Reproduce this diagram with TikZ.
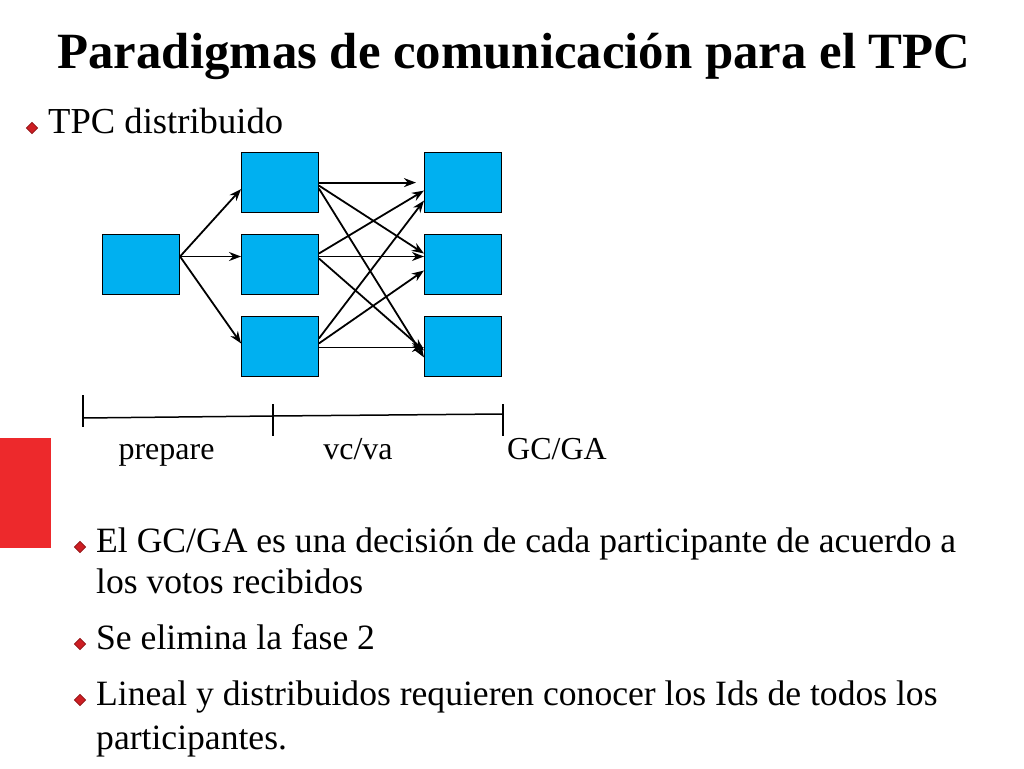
\documentclass[tikz,border=0pt]{standalone}
\usepackage{fontspec}
\setmainfont{Liberation Serif}
\usetikzlibrary{positioning}
\usetikzlibrary{arrows.meta}
\definecolor{boxblue}{RGB}{0,176,240}
\definecolor{barred}{RGB}{237,41,44}
\definecolor{bulred}{RGB}{205,30,35}
\tikzstyle{stage}=[rectangle,draw,line width=0.9pt,fill=boxblue,minimum width=77pt,minimum height=60pt,inner sep=0pt]
\tikzstyle{conn}=[-{Stealth[length=12pt,width=9pt]},line width=1.8pt]
\tikzstyle{tick}=[line width=1.5pt]
\tikzstyle{bul}=[rectangle,rotate=45,fill=bulred,draw=bulred!70!black,line width=0.6pt,minimum size=8pt,inner sep=0pt]
\tikzstyle{txt}=[anchor=base west,inner sep=0pt,font=\fontsize{35.6}{41}\selectfont]
\tikzstyle{phase}=[anchor=base,inner sep=0pt,font=\fontsize{32}{38}\selectfont]
\begin{document}
\begin{tikzpicture}[x=1pt,y=-1pt]
    \useasboundingbox (0,0) rectangle (1024,768);
    \fill[barred] (0,438) rectangle (50.7,548);
    \node (title) [anchor=base,inner sep=0pt,font=\fontsize{50.8}{60}\selectfont\bfseries] at (514,68) {Paradigmas de comunicación para el TPC};
    \node (b0) [bul] at (32,128) {};
    \node (h0) [txt, font=\fontsize{36.6}{42}\selectfont] at (48,133) {TPC distribuido};

\node (m2) [stage] at (280,264.5) {};
\node (m1) [above=21pt of m2, stage] {};
\node (m3) [below=21pt of m2, stage] {};
\node (l) [left=61pt of m2, stage] {};
\node (r2) [right=105pt of m2, stage] {};
\node (r1) [above=21pt of r2, stage] {};
\node (r3) [below=21pt of r2, stage] {};
\foreach \t/\ty in {m1/-6.5, m2/8, m3/3}
    \draw[conn] ([yshift=8pt]l.east) -- ([yshift=\ty pt]\t.west);
\foreach \s/\sy/\t/\ty in {m1/-3/r2/11, m1/-6/r3/-11, m2/11/r1/-8, m2/8/r2/8, m2/6/r3/-4, m3/8/r1/-18, m3/3/r2/-6, m3/-1/r3/-1}
    \draw[conn] ([yshift=\sy pt]\s.east) -- ([yshift=\ty pt]\t.west);
\draw[conn, shorten >=8pt] (m1.east) -- (r1.west);

\coordinate (t0) at (83,418);
\coordinate (t1) at (273,416);
\coordinate (t2) at (503,414);
\draw[tick] (t0) -- (t1) -- (t2);
\draw[tick] ([yshift=23pt]t0) -- ([yshift=-9pt]t0);
\draw[tick] ([yshift=12pt]t1) -- ([yshift=-20pt]t1);
\draw[tick] ([yshift=10pt]t2) -- ([yshift=-22pt]t2);
\node (p0) [phase] at (166.5,459) {prepare};
\node (p1) [phase] at (358,459) {vc/va};
\node (p2) [phase, anchor=base west] at (507,459) {GC/GA};

\node (b1) [bul] at (80,547) {};
\node (i1) [txt] at (96,552) {El GC/GA es una decisión de cada participante de acuerdo a};
\node (i1b) [txt] at (96,593) {los votos recibidos};
\node (b2) [bul] at (80,644) {};
\node (i2) [txt] at (96,649) {Se elimina la fase 2};
\node (b3) [bul] at (80,700) {};
\node (i3) [txt] at (96,705) {Lineal y distribuidos requieren conocer los Ids de todos los};
\node (i3b) [txt] at (96,749) {participantes.};
\end{tikzpicture}
\end{document}
